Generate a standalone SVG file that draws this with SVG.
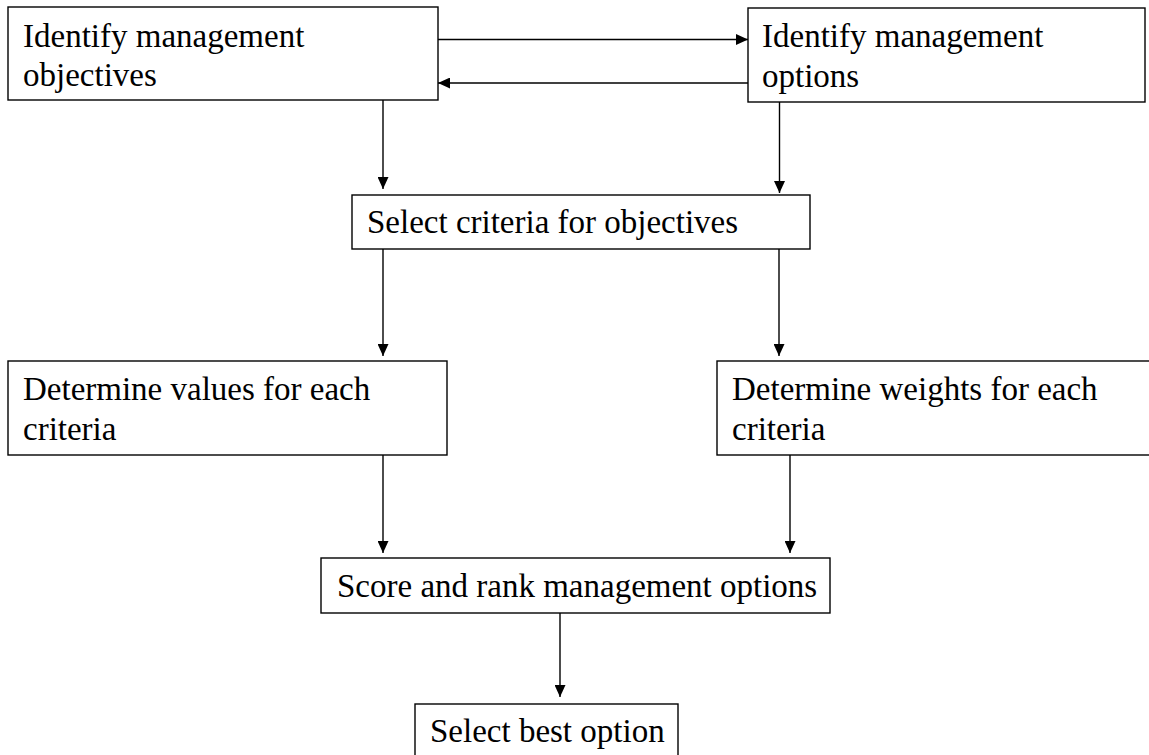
<svg xmlns="http://www.w3.org/2000/svg" width="1149" height="755" viewBox="0 0 1149 755">
<defs>
<style>
.box{fill:#fff;stroke:#000;stroke-width:1.4}
.lbl{font-family:"Liberation Serif","Times New Roman",serif;font-size:33px;fill:#000}
.con{stroke:#000;stroke-width:1.4;fill:none;marker-end:url(#ah)}
</style>
<marker id="ah" markerWidth="12" markerHeight="11" refX="12" refY="5.5" orient="auto" markerUnits="userSpaceOnUse">
<path d="M0,0 L12,5.5 L0,11 z" fill="#000"/>
</marker>
</defs>
<rect width="1149" height="755" fill="#fff"/>
<g id="connectors">
<line class="con" x1="438" y1="39.5" x2="748" y2="39.5"/>
<line class="con" x1="748" y1="83" x2="438" y2="83"/>
<line class="con" x1="383" y1="100" x2="383" y2="189"/>
<line class="con" x1="779.5" y1="102" x2="779.5" y2="193"/>
<line class="con" x1="383" y1="249" x2="383" y2="356"/>
<line class="con" x1="779" y1="249" x2="779" y2="356"/>
<line class="con" x1="383" y1="455" x2="383" y2="553"/>
<line class="con" x1="790" y1="455" x2="790" y2="553"/>
<line class="con" x1="560" y1="613" x2="560" y2="697"/>
</g>
<g id="n1">
<rect class="box" x="8" y="7" width="430" height="93"/>
<text class="lbl" x="23" y="47">Identify management</text>
<text class="lbl" x="23" y="86">objectives</text>
</g>
<g id="n2">
<rect class="box" x="748" y="8" width="397" height="94"/>
<text class="lbl" x="762" y="47">Identify management</text>
<text class="lbl" x="762" y="87">options</text>
</g>
<g id="n3">
<rect class="box" x="352" y="195" width="458" height="54"/>
<text class="lbl" x="367" y="233">Select criteria for objectives</text>
</g>
<g id="n4">
<rect class="box" x="8" y="361" width="439" height="94"/>
<text class="lbl" x="23" y="400">Determine values for each</text>
<text class="lbl" x="23" y="440">criteria</text>
</g>
<g id="n5">
<rect class="box" x="717" y="361" width="440" height="94"/>
<text class="lbl" x="732" y="400">Determine weights for each</text>
<text class="lbl" x="732" y="440">criteria</text>
</g>
<g id="n6">
<rect class="box" x="321" y="558" width="509" height="55"/>
<text class="lbl" x="337" y="597">Score and rank management options</text>
</g>
<g id="n7">
<rect class="box" x="415" y="704" width="263" height="60"/>
<text class="lbl" x="430" y="742">Select best option</text>
</g>
</svg>
